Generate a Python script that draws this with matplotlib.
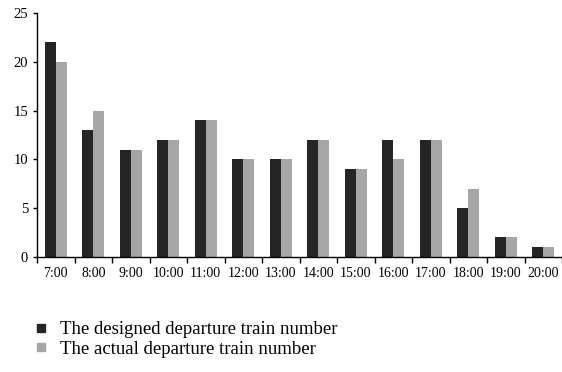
import numpy as np
import matplotlib
matplotlib.use('Agg')
import matplotlib.pyplot as plt
from matplotlib.lines import Line2D

hours = ['7:00', '8:00', '9:00', '10:00', '11:00', '12:00', '13:00',
         '14:00', '15:00', '16:00', '17:00', '18:00', '19:00', '20:00']
designed = [22, 13, 11, 12, 14, 10, 10, 12, 9, 12, 12, 5, 2, 1]
actual = [20, 15, 11, 12, 14, 10, 10, 12, 9, 10, 12, 7, 2, 1]

plt.rcParams['font.family'] = ['Liberation Serif', 'DejaVu Serif']

fig = plt.figure(figsize=(5.62, 3.72), dpi=100)
ax = fig.add_axes([37 / 562, 1 - 257 / 372, 525 / 562, 244 / 372])

x = np.arange(len(hours))
w = 0.29
dark = '#252525'
grey = '#a6a6a6'
ax.bar(x - w / 2, designed, w, color=dark)
ax.bar(x + w / 2, actual, w, color=grey)

ax.set_xlim(-0.5, len(hours) - 0.5)
ax.set_ylim(0, 25)
ax.set_yticks([0, 5, 10, 15, 20, 25])
ax.tick_params(axis='y', labelsize=10.5, length=3, direction='out', width=1)

# ticks between categories, labels in the middle
ax.set_xticks(np.arange(-0.5, len(hours) + 0.5, 1))
ax.set_xticklabels([])
ax.set_xticks(x, minor=True)
ax.set_xticklabels(hours, minor=True, fontsize=10)
ax.tick_params(axis='x', which='major', length=4, direction='out', width=1)
ax.tick_params(axis='x', which='minor', length=0, pad=7)

for s in ['top', 'right']:
    ax.spines[s].set_visible(False)
ax.spines['left'].set_linewidth(1)
ax.spines['bottom'].set_linewidth(1)

handles = [Line2D([], [], marker='s', color='none', markerfacecolor=dark,
                  markeredgecolor=dark, markersize=6),
           Line2D([], [], marker='s', color='none', markerfacecolor=grey,
                  markeredgecolor=grey, markersize=6)]
fig.legend(handles, ['The designed departure train number',
                     'The actual departure train number'],
           loc='upper left', bbox_to_anchor=(22 / 562, 1 - 312 / 372),
           frameon=False, fontsize=13.5, handlelength=1, handletextpad=0.5,
           labelspacing=0.1, borderpad=0)

fig.savefig('out.png', dpi=100)
